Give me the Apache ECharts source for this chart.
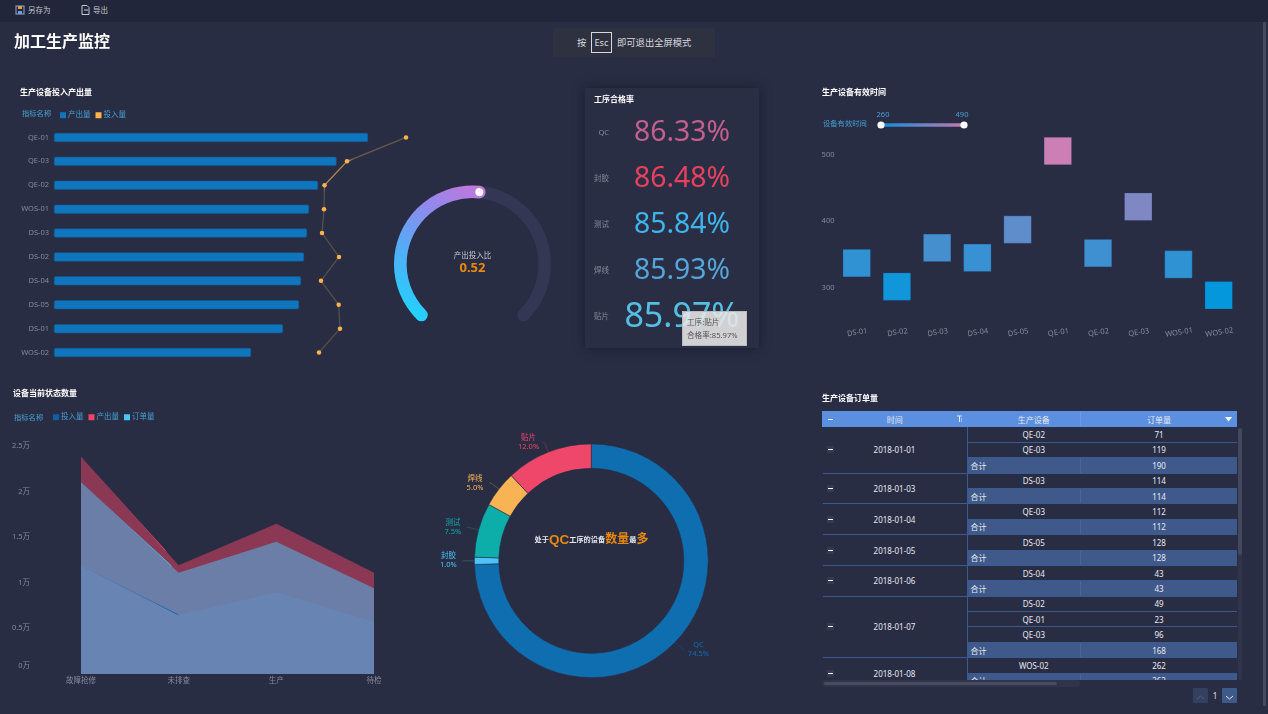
<!DOCTYPE html>
<html><head><meta charset="utf-8">
<script src="https://cdn.jsdelivr.net/npm/echarts@6/dist/echarts.min.js"></script>
<style>
html,body{margin:0;padding:0;width:1268px;height:714px;overflow:hidden;background:#292d44;font-family:"Noto Sans","Noto Sans CJK SC",sans-serif;}
#chart{position:absolute;left:0;top:0;width:1268px;height:714px;}
.abs{position:absolute;box-sizing:border-box;}
#toolbar{left:0;top:0;width:1268px;height:22px;background:#22263a;color:#c4c7d0;font-size:7.5px;line-height:21px;}
#toolbar span{position:absolute;top:0;}
#toolbar svg{position:absolute;top:5px;}
#pagebar{left:1263px;top:22px;width:3px;height:684px;background:#464a60;}
#esc{left:553px;top:28px;width:162px;height:29px;background:#2d3140;color:#d8d8dc;font-size:9.3px;line-height:29px;}
#esc span{position:absolute;top:0;white-space:nowrap;}
#esc b{position:absolute;left:38px;top:4px;width:21px;height:21px;border:1px solid #d8d8dc;box-sizing:border-box;font-weight:400;line-height:19px;text-align:center;}
#card{left:585px;top:88px;width:174px;height:260px;background:#2a2e45;box-shadow:0 0 10px rgba(10,12,25,.55);}
#tip{left:682px;top:311px;width:65px;height:35px;background:rgba(232,232,232,.88);border:1px solid #bbb;color:#555;font-size:7.6px;line-height:13px;padding:4px 0 0 4px;white-space:nowrap;z-index:5;}
#tablewrap{left:822px;top:411px;width:415px;height:269px;overflow:hidden;}
table{border-collapse:collapse;table-layout:fixed;width:415px;font-size:8px;color:#e6e8ef;}
td,th{height:15.4px;padding:0;box-sizing:border-box;text-align:center;font-weight:400;border:1px solid #3b5a92;overflow:visible;white-space:nowrap;line-height:13px;position:relative;}
td.date{background:#292d44;border-left:0;}
th{background:#5b8fdf;border-color:#5b8fdf;}
td.dev{padding-left:20px;border-right-color:#292d44;}
td.val{padding-right:0;border-left-color:#292d44;}
tr.sum td{background:#3f5a8a;}
tr.sum td.dev{text-align:left;padding:0 0 0 3px;border-right-color:#4a6596;}
tr.sum td.val{border-left-color:#4a6596;}
.minus{position:absolute;left:4px;top:50%;margin-top:-3.5px;width:7px;height:7px;background:#343850;}
.minus:after{content:"";position:absolute;left:1px;right:1px;top:3px;height:1px;background:#fff;}
#sbv{left:1238px;top:428px;width:4px;height:252px;background:#30344b;border-radius:2px;}
#sbv i{display:block;width:4px;height:127px;background:#44485c;border-radius:2px;}
#sbh{left:822px;top:680px;width:258px;height:7px;background:#30344b;border-radius:3px;}
#sbh i{position:absolute;left:2px;top:2px;display:block;width:233px;height:3px;background:#484c60;border-radius:2px;}
.pg{top:688px;width:15px;height:15px;border-radius:1px;}
</style></head><body>
<div id="chart"></div>
<div class="abs" id="toolbar">
<svg style="left:15px" width="10" height="10" viewBox="0 0 10 10"><rect x="1" y="1" width="8" height="8" fill="none" stroke="#9aa6c8"/><rect x="3" y="1" width="4" height="3" fill="#e0a05a"/><rect x="3" y="6" width="4" height="3" fill="#6f9fd8"/></svg>
<span style="left:28px">另存为</span>
<svg style="left:81px" width="9" height="10" viewBox="0 0 9 10"><path d="M1 .5h5l2 2v7H1z" fill="none" stroke="#c4c7d0"/><path d="M3 5h4" stroke="#c4c7d0"/></svg>
<span style="left:93px">导出</span>
</div>
<div class="abs" id="pagebar"></div>
<div class="abs" id="esc"><span style="left:24px">按</span><b>Esc</b><span style="left:64px">即可退出全屏模式</span></div>
<div class="abs" id="tip">工序:贴片<br>合格率:85.97%</div>
<div class="abs" id="tablewrap"></div>
<div class="abs" id="sbv"><i></i></div>
<div class="abs" id="sbh"><i></i></div>
<div class="abs pg" style="left:1193px;background:#33405f"><svg width="15" height="15"><path d="M4 9l3.5-3 3.5 3" fill="none" stroke="#56617d"/></svg></div>
<div class="abs" style="left:1212px;top:688px;width:6px;height:15px;color:#dfe2ea;font-size:8px;line-height:15px;text-align:center">1</div>
<div class="abs pg" style="left:1222px;background:#3d5a8a"><svg width="15" height="15"><path d="M4 6l3.5 3 3.5-3" fill="none" stroke="#e6e8ef"/></svg></div>
<script>
// ---------- input / output bars ----------
const deviceNames = ['QE-01','QE-03','QE-02','WOS-01','DS-03','DS-02','DS-04','DS-05','DS-01','WOS-02'];
const outputValues = [3140,2825,2640,2550,2530,2500,2470,2450,2290,1970];
const inputValues  = [3520,2930,2705,2700,2680,2850,2670,2847,2860,2650];
// ---------- gauge ----------
const gaugeRatio = 0.52;
// ---------- process pass rates ----------
const processNames = ['QC','封胶','测试','焊线','贴片'];
const passRates = [86.33,86.48,85.84,85.93,85.97];
const passColors = ['#c25f8e','#e8415f','#3fb4ec','#55a5d9','#55bfe2'];
// ---------- effective time ----------
const timeDevices = ['DS-01','DS-02','DS-03','DS-04','DS-05','QE-01','QE-02','QE-03','WOS-01','WOS-02'];
const timeValues = [337,301.5,360,345,387.5,506,352,422,335,288.5];
const sliderLabels = ['260','490'];
// ---------- status areas ----------
const statusNames = ['故障抢修','未排查','生产','待检'];
const inputByStatus  = [11860,6460,8950,5730];
const outputByStatus = [23800,11900,16460,11100];
const orderByStatus  = [21000,11100,14490,9380];
// ---------- process donut ----------
const donutNames = ['QC','封胶','测试','焊线','贴片'];
const donutValues = [74.5,1.0,7.5,5.0,12.0];
const donutColors = ['#0f6eb0','#4cc4f9','#0dadaa','#f8b354','#ef4769'];
// ---------- order table ----------
const orderDates = ['2018-01-01','2018-01-03','2018-01-04','2018-01-05','2018-01-06','2018-01-07','2018-01-08'];
const orderDevices = [['QE-02','QE-03'],['DS-03'],['QE-03'],['DS-05'],['DS-04'],['DS-02','QE-01','QE-03'],['WOS-02']];
const orderCounts = [[71,119],[114],[112],[128],[43],[49,23,96],[262]];

const FONT = '"Noto Sans","Noto Sans CJK SC",sans-serif';
const LEGEND_BLUE = '#46a0d2', AXIS_GREY = '#858a9c';
const grad = (x,y,x2,y2,stops) => new echarts.graphic.LinearGradient(x,y,x2,y2,stops);
const heading = (text,left,top,extra) => ({text,left,top,padding:0,textStyle:Object.assign({color:'#fff',fontSize:8,fontWeight:'bold',fontFamily:FONT},extra||{})});
const legendTitle = (text,left,top) => ({text,left,top,padding:0,textStyle:{color:LEGEND_BLUE,fontSize:7.3,fontWeight:'normal',fontFamily:FONT}});

const option = {
  animation:false,
  textStyle:{fontFamily:FONT},
  title:[
    heading('加工生产监控',14,34,{fontSize:16}),
    heading('生产设备投入产出量',20,89),
    heading('工序合格率',594,96),
    heading('生产设备有效时间',822,89),
    heading('设备当前状态数量',13,390),
    heading('生产设备订单量',822,395),
    legendTitle('指标名称',22,110.5),
    legendTitle('指标名称',14,414),
    legendTitle('设备有效时间',823,120.5),
    {text:'{a|处于}{b|QC}{a|工序的设备}{c|数量}{a|最}{c|多}',left:591.5,top:533,padding:0,textAlign:'center',
     textStyle:{rich:{a:{color:'#e6e8ef',fontSize:7.2,fontFamily:FONT},b:{color:'#ea8a0c',fontSize:13.5,fontWeight:'bold',fontFamily:'Liberation Sans'},c:{color:'#ea8a0c',fontSize:12,fontFamily:FONT}}}}
  ],
  legend:[
    {left:55,top:106.5,itemWidth:6,itemHeight:6,itemGap:5,icon:'rect',textStyle:{color:LEGEND_BLUE,fontSize:7.5,padding:[0,0,0,-3]},
     data:[{name:'产出量',itemStyle:{color:'#0f75bc',borderWidth:0}},{name:'投入量',itemStyle:{color:'#ffb24d',borderWidth:0}}]},
    {left:48,top:408.5,itemWidth:6,itemHeight:6,itemGap:5,icon:'rect',textStyle:{color:LEGEND_BLUE,fontSize:7.5,padding:[0,0,0,-3]},
     data:[{name:'投入量',itemStyle:{color:'#0f5fa8',borderWidth:0}},{name:'产出量',itemStyle:{color:'#ee4466',borderWidth:0}},{name:'订单量',itemStyle:{color:'#4cc4f9',borderWidth:0}}]}
  ],
  grid:[
    {left:54,top:125.5,width:400,height:239,containLabel:false},
    {left:614,top:110,width:136,height:230},
    {left:836.6,top:121.8,width:402.2,height:199},
    {left:81,top:445.7,width:293,height:228.3}
  ],
  xAxis:[
    {gridIndex:0,type:'value',min:0,max:4000,show:false},
    {gridIndex:1,type:'value',min:0,max:100,show:false},
    {gridIndex:2,type:'category',data:timeDevices,axisLine:{show:false},axisTick:{show:false},
     axisLabel:{color:AXIS_GREY,fontSize:7.5,rotate:9,margin:8,interval:0,align:'center',verticalAlign:'top'}},
    {gridIndex:3,type:'category',data:statusNames,boundaryGap:false,axisLine:{show:false},axisTick:{show:false},
     axisLabel:{color:AXIS_GREY,fontSize:7.5,margin:3,interval:0}}
  ],
  yAxis:[
    {gridIndex:0,type:'category',inverse:true,data:deviceNames,axisLine:{show:false},axisTick:{show:false},
     axisLabel:{color:AXIS_GREY,fontSize:7.5,margin:5,interval:0}},
    {gridIndex:1,type:'category',inverse:true,data:processNames,axisLine:{show:false},axisTick:{show:false},
     axisLabel:{color:AXIS_GREY,fontSize:7.5,margin:5,interval:0}},
    {gridIndex:2,type:'value',min:250,max:550,interval:50,splitLine:{show:false},axisLine:{show:false},axisTick:{show:false},
     axisLabel:{color:AXIS_GREY,fontSize:7.5,margin:15,align:'left',formatter:v=>v%100===0?String(v):''}},
    {gridIndex:3,type:'value',min:0,max:25000,interval:5000,splitLine:{show:false},axisLine:{show:false},axisTick:{show:false},
     axisLabel:{color:AXIS_GREY,fontSize:7.5,margin:51,align:'right',verticalAlignMinLabel:'bottom',lineHeight:16,formatter:v=>(v/10000)+'万'}}
  ],
  visualMap:[{show:false,type:'continuous',seriesIndex:3,dimension:1,min:288.5,max:506,inRange:{color:['#0597dc','#cb7fb4']}}],
  series:[
    {name:'产出量',type:'bar',xAxisIndex:0,yAxisIndex:0,data:outputValues,barWidth:9,itemStyle:{color:'#0f75bc',borderRadius:1.5,borderColor:'#125d98',borderWidth:.5}},
    {name:'投入量',type:'line',xAxisIndex:0,yAxisIndex:0,data:inputValues,symbol:'circle',symbolSize:4.5,
     itemStyle:{color:'#ffb24d'},
     lineStyle:{width:1.3,color:grad(0,0,0,1,[{offset:0,color:'#62564b'},{offset:.11,color:'#6c5a48'},{offset:.115,color:'#b08a4a'},{offset:.225,color:'#b08a4a'},{offset:.26,color:'#564f49'},{offset:1,color:'#564f49'}])}},
    {name:'合格率',type:'scatter',xAxisIndex:1,yAxisIndex:1,symbolSize:1,itemStyle:{color:'transparent',opacity:1},
     data:passRates.map((v,i)=>({value:[50,i],
       label:{show:true,position:'inside',color:passColors[i],fontSize:i===4?34:28.3,fontFamily:FONT,formatter:()=>v.toFixed(2)+'%'}}))},
    {name:'有效时间',type:'scatter',xAxisIndex:2,yAxisIndex:2,symbol:'rect',symbolSize:27.5,
     itemStyle:{opacity:1,borderColor:'rgba(25,50,100,.3)',borderWidth:.8},
     data:timeDevices.map((d,i)=>[i,timeValues[i]])},
    {name:'投入量',type:'line',xAxisIndex:3,yAxisIndex:3,data:inputByStatus,symbol:'none',
     areaStyle:{color:'#0f5fa8',opacity:.5},
     lineStyle:{width:1,color:grad(0,0,1,0,[{offset:0,color:'rgba(15,95,168,0)'},{offset:.2,color:'rgba(15,95,168,.35)'},{offset:.33,color:'rgba(15,100,180,1)'},{offset:.34,color:'rgba(15,95,168,0)'},{offset:1,color:'rgba(15,95,168,0)'}])}},
    {name:'产出量',type:'line',xAxisIndex:3,yAxisIndex:3,data:outputByStatus,symbol:'none',
     areaStyle:{color:'#ee4466',opacity:.5},
     lineStyle:{width:1,color:grad(0,0,1,0,[{offset:0,color:'rgba(238,68,102,0)'},{offset:.2,color:'rgba(238,68,102,.35)'},{offset:.29,color:'rgba(238,68,102,1)'},{offset:.297,color:'rgba(238,68,102,0)'},{offset:1,color:'rgba(238,68,102,0)'}])}},
    {name:'订单量',type:'line',xAxisIndex:3,yAxisIndex:3,data:orderByStatus,symbol:'none',
     areaStyle:{color:'#4cc4f9',opacity:.5},
     lineStyle:{width:1,color:grad(0,0,1,0,[{offset:0,color:'rgba(76,196,249,0)'},{offset:.15,color:'rgba(76,196,249,.35)'},{offset:.31,color:'rgba(76,196,249,1)'},{offset:.314,color:'rgba(76,196,249,0)'},{offset:1,color:'rgba(76,196,249,0)'}])}},
    {type:'gauge',z:2,center:[472.5,264],radius:78.5,startAngle:225,endAngle:-45,min:0,max:1,
     axisLine:{roundCap:true,lineStyle:{width:12.6,color:[[1,'#343754']]}},
     progress:{show:true,roundCap:true,width:12.6,itemStyle:{color:grad(.1,1,.9,0,[{offset:0,color:'#1ad8ff'},{offset:.45,color:'#5aa8f6'},{offset:.75,color:'#9488ec'},{offset:1,color:'#c277dc'}])}},
     axisTick:{show:false},splitLine:{show:false},axisLabel:{show:false},pointer:{show:false},
     title:{offsetCenter:[0,-8],color:'#c8cad4',fontSize:7.5},
     detail:{offsetCenter:[0,4],color:'#ea8a0c',fontSize:13,fontWeight:'bold',formatter:v=>v.toFixed(2)},
     data:[{value:gaugeRatio,name:'产出投入比'}]},
    {type:'pie',center:[591.3,560.8],radius:[92.5,116.9],startAngle:90,clockwise:true,
     itemStyle:{borderColor:'#292d44',borderWidth:.6},
     label:{formatter:p=>'{n|'+p.name+'}\n{n|'+p.percent.toFixed(1)+'%}',fontSize:7.5,rich:{n:{width:18,align:'center',fontSize:7.5,lineHeight:9}}},
     labelLine:{length:10,length2:2,lineStyle:{width:.5,opacity:.55}},
     data:donutNames.map((n,i)=>({name:n,value:donutValues[i],itemStyle:{color:donutColors[i]},label:{color:donutColors[i],rich:{n:{color:donutColors[i]}}},labelLine:{lineStyle:{color:donutColors[i]}}}))},
    {type:'gauge',z:5,center:[472.5,264],radius:78.5,startAngle:225,endAngle:-45,min:0,max:1,
     axisLine:{show:false},progress:{show:false},axisTick:{show:false},splitLine:{show:false},axisLabel:{show:false},
     pointer:{show:true,icon:'circle',length:8,width:8,offsetCenter:[0,-68.2],itemStyle:{color:'#fff'}},
     title:{show:false},detail:{show:false},
     data:[{value:gaugeRatio}]}
  ],
  graphic:[
    {type:'rect',z:5,shape:{x:881,y:123.2,width:83,height:3.6},style:{fill:grad(0,0,1,0,[{offset:0,color:'#0f8fd8'},{offset:1,color:'#c678b0'}])}},
    {type:'circle',z:6,shape:{cx:881,cy:125,r:3.6},style:{fill:'#fff'}},
    {type:'circle',z:6,shape:{cx:964,cy:125,r:3.6},style:{fill:'#fff'}},
    {type:'text',z:6,x:883,y:115,style:{text:sliderLabels[0],fill:LEGEND_BLUE,font:'7.5px '+FONT,align:'center',verticalAlign:'middle'}},
    {type:'text',z:6,x:962,y:115,style:{text:sliderLabels[1],fill:LEGEND_BLUE,font:'7.5px '+FONT,align:'center',verticalAlign:'middle'}}
  ]
};
const card=document.createElement('div');card.className='abs';card.id='card';document.body.insertBefore(card,document.body.firstChild);
document.getElementById('chart').style.zIndex=1;
const chart = echarts.init(document.getElementById('chart'),null,{renderer:'canvas',devicePixelRatio:1});
chart.setOption(option);

let html='<table><colgroup><col style="width:144.5px"><col style="width:113.5px"><col style="width:157px"></colgroup>';
html+='<tr><th><span class="minus" style="background:none"></span>时间<svg style="position:absolute;right:4px;top:3px" width="7" height="8"><path d="M1 1h5M3.5 1v6M5 4h1M5 6h1" stroke="#e6e8ef" fill="none"/></svg></th><th style="padding-left:20px;border-right-color:#6a9ae4">生产设备</th><th>订单量<svg style="position:absolute;right:5px;top:5px" width="7" height="5"><path d="M0 0h7L3.5 4.5z" fill="#fff"/></svg></th></tr>';
orderDates.forEach((d,i)=>{
  const devs=orderDevices[i],cnt=orderCounts[i],total=cnt.reduce((a,b)=>a+b,0);
  devs.forEach((dv,j)=>{
    html+='<tr>'+(j===0?`<td class="date" rowspan="${devs.length+1}"><span class="minus"></span>${d}</td>`:'')+`<td class="dev">${dv}</td><td class="val">${cnt[j]}</td></tr>`;
  });
  html+=`<tr class="sum"><td class="dev">合计</td><td class="val">${total}</td></tr>`;
});
document.getElementById('tablewrap').innerHTML=html+'</table>';
</script>
</body></html>
